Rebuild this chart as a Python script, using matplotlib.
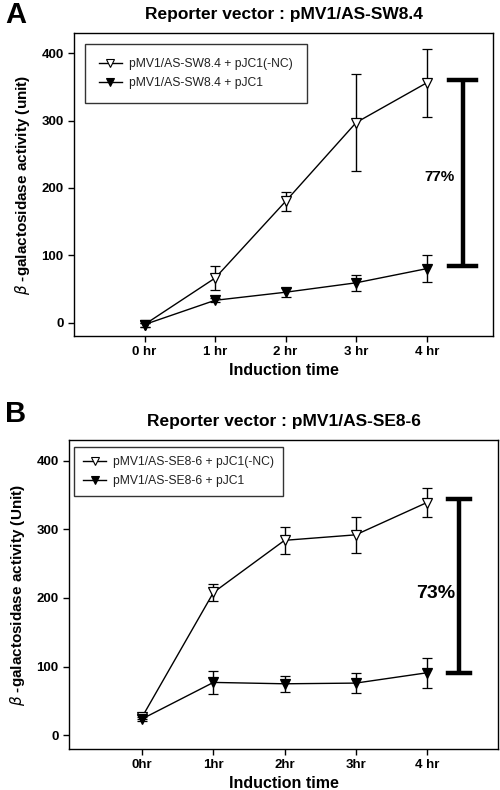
import matplotlib.pyplot as plt
from matplotlib.lines import Line2D
import numpy as np

plt.rcParams['font.family'] = ['Liberation Sans', 'DejaVu Sans']

# data
hours = np.arange(5)
labels_a = ['0 hr', '1 hr', '2 hr', '3 hr', '4 hr']
labels_b = ['0hr', '1hr', '2hr', '3hr', '4 hr']

a_nc = [-3, 66, 180, 297, 356]
a_nc_err = [3, 18, 14, 72, 50]
a_jc = [-3, 33, 45, 59, 80]
a_jc_err = [3, 3, 7, 12, 20]

b_nc = [27, 208, 284, 292, 339]
b_nc_err = [3, 13, 20, 26, 21]
b_jc = [24, 77, 75, 76, 91]
b_jc_err = [3, 17, 12, 14, 22]

fig = plt.figure(figsize=(5, 7.9), dpi=100)


def panel(ax, nc, nc_err, jc, jc_err, xlabels, names, title, ylab,
          bracket, pct, pct_pos, pct_size, xlim, leg_pad, leg_space, leg_anchor):
    kw = dict(color='black', lw=1, capsize=3.5, elinewidth=1, capthick=1,
              marker='v', ms=6.5, mec='black', mew=0.9)
    ax.errorbar(hours, nc, yerr=nc_err, mfc='white', **kw)
    ax.errorbar(hours, jc, yerr=jc_err, mfc='black', **kw)
    bx, lo, hi, hw = bracket
    ax.plot([bx, bx], [lo, hi], color='black', lw=3.2, solid_capstyle='butt')
    ax.plot([bx - hw, bx + hw], [hi, hi], color='black', lw=3.2)
    ax.plot([bx - hw, bx + hw], [lo, lo], color='black', lw=3.2)
    ax.text(pct_pos[0], pct_pos[1], pct, fontsize=pct_size, fontweight='bold',
            ha='center', va='center')
    ax.set_xlim(*xlim)
    ax.set_ylim(-20, 430)
    ax.set_xticks(hours)
    ax.set_xticklabels(xlabels)
    ax.set_yticks([0, 100, 200, 300, 400])
    for lab in ax.get_xticklabels() + ax.get_yticklabels():
        lab.set_fontweight('bold')
        lab.set_fontsize(9.5)
    ax.tick_params(direction='out', length=4, width=1, top=False, right=False)
    for s in ax.spines.values():
        s.set_linewidth(1)
    ax.set_xlabel('Induction time', fontsize=11.5, fontweight='bold', labelpad=3)
    ax.set_ylabel(ylab, fontsize=11, fontweight='bold', labelpad=7)
    ax.set_title(title, fontsize=12.5, fontweight='bold', pad=10)
    handles = [Line2D([], [], color='black', lw=1, marker='v', ms=5.5,
                      mfc='white', mec='black', mew=0.8),
               Line2D([], [], color='black', lw=1, marker='v', ms=5.5,
                      mfc='black', mec='black', mew=0.8)]
    leg = ax.legend(handles, names, loc='upper left', fontsize=8.7, frameon=True,
                    fancybox=False, borderpad=leg_pad, handlelength=1.9,
                    handletextpad=0.6, labelspacing=leg_space,
                    borderaxespad=0, bbox_to_anchor=leg_anchor)
    leg.get_frame().set_edgecolor('black')
    leg.get_frame().set_linewidth(1)
    for t in leg.get_texts():
        t.set_color('#222222')


ax1 = fig.add_axes([0.148, 0.5747, 0.838, 0.3835])
panel(ax1, a_nc, a_nc_err, a_jc, a_jc_err, labels_a,
      ['pMV1/AS-SW8.4 + pJC1(-NC)', 'pMV1/AS-SW8.4 + pJC1'],
      'Reporter vector : pMV1/AS-SW8.4', r'$\beta$ -galactosidase activity (unit)',
      (4.51, 84, 360, 0.19), '77%', (4.18, 216), 11, (-1.0, 4.94),
      1.15, 0.6, (0.026, 0.964))

ax2 = fig.add_axes([0.138, 0.0519, 0.858, 0.391])
panel(ax2, b_nc, b_nc_err, b_jc, b_jc_err, labels_b,
      ['pMV1/AS-SE8-6 + pJC1(-NC)', 'pMV1/AS-SE8-6 + pJC1'],
      'Reporter vector : pMV1/AS-SE8-6', r'$\beta$ -galactosidase activity (Unit)',
      (4.45, 90, 344, 0.15), '73%', (4.12, 207), 14, (-1.03, 5.0),
      0.75, 0.55, (0.012, 0.977))

fig.text(0.01, 0.999, 'A', fontsize=21, fontweight='bold', va='top')
fig.text(0.01, 0.494, 'B', fontsize=21, fontweight='bold', va='top')

fig.savefig('out.png', dpi=100)
